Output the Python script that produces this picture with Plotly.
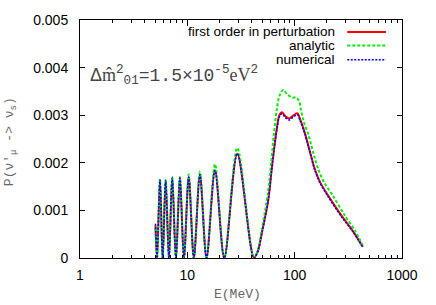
import plotly.graph_objects as go

# ---- data ----
energy_red = [5.05, 5.22, 5.56, 5.89, 6.28, 6.74, 7.23, 7.83, 8.53, 9.3, 10.3, 11.5, 13.1, 15.1,
              18.1, 22.1, 29.2, 41.7, 45.5, 49.2, 56.6, 61, 64, 68, 72, 76, 82, 89, 98, 106,
              113, 124, 144, 154, 172, 205, 273, 350, 431]
p_red = [0.00068, 0.0, 0.00164, 0.0, 0.00162, 0.0, 0.00168, 0.0, 0.00168, 0.0, 0.0017, 0.0,
         0.00175, 0.0, 0.00184, 0.0, 0.00219, 0.0, 0.00015, 0.0005, 0.0012, 0.00185, 0.00225,
         0.0027, 0.0030, 0.00306, 0.00298, 0.00293, 0.0030, 0.00304, 0.0029, 0.00264, 0.0021,
         0.00187, 0.0016, 0.00131, 0.00089, 0.00056, 0.000235]

energy_green = [5.05, 5.22, 5.56, 5.89, 6.28, 6.74, 7.23, 7.83, 8.53, 9.3, 10.3, 11.5, 13.1, 15.1,
                18.1, 22.1, 29.2, 41.7, 45.5, 49.2, 56.6, 61, 64, 68, 72, 78, 86, 95, 103, 110,
                114, 124, 134, 146, 154, 166, 187, 228, 290, 370, 431]
p_green = [0.00062, 0.0, 0.00166, 0.0, 0.00164, 0.0, 0.0017, 0.0, 0.0017, 0.0, 0.00176, 0.0,
           0.00181, 0.0, 0.00197, 0.0, 0.00231, 0.0, 0.00017, 0.00057, 0.0014, 0.0021, 0.0026,
           0.0031, 0.0034, 0.00353, 0.00343, 0.00337, 0.00337, 0.0033, 0.00312, 0.0028, 0.0026,
           0.00228, 0.0021, 0.00186, 0.0016, 0.0013, 0.00091, 0.00055, 0.00026]

energy_blue = energy_red
p_blue = [0.00072, 0.0, 0.00164, 0.0, 0.00162, 0.0, 0.00168, 0.0, 0.00168, 0.0, 0.0017, 0.0,
          0.00175, 0.0, 0.00184, 0.0, 0.00219, 0.0, 0.00015, 0.0005, 0.0012, 0.00184, 0.00224,
          0.00268, 0.00297, 0.00303, 0.00295, 0.0029, 0.00297, 0.00301, 0.00287, 0.00262, 0.00208,
          0.00185, 0.00158, 0.00129, 0.00087, 0.00055, 0.00023]

series_names = ["first order in perturbation", "analytic", "numerical"]
y_ticks = [0, 0.001, 0.002, 0.003, 0.004, 0.005]
y_tick_labels = ["0", "0.001", "0.002", "0.003", "0.004", "0.005"]

styles = [
    dict(color="#ff0000", width=2, dash="solid"),
    dict(color="#00ee00", width=2, dash="3px,2px"),
    dict(color="#0000ff", width=1.6, dash="2px,1.5px"),
]

fig = go.Figure()
for (xs, ys), name, st in zip([(energy_red, p_red), (energy_green, p_green), (energy_blue, p_blue)],
                              series_names, styles):
    fig.add_trace(go.Scatter(x=xs, y=ys, mode="lines", name=name,
                             line=dict(shape="spline", smoothing=0.9, **st), showlegend=False))

tick_font = dict(family="Liberation Sans, Arial, sans-serif", size=14, color="#000")

fig.update_layout(
    width=436, height=305,
    margin=dict(l=80, r=34, t=17, b=47),
    paper_bgcolor="white", plot_bgcolor="white",
    font=tick_font,
    xaxis=dict(type="log", range=[0, 3], dtick=1, tickformat="d",
               showgrid=False, zeroline=False, showline=True, linecolor="#000", linewidth=1,
               mirror="ticks", ticks="inside", ticklen=6, tickcolor="#000",
               ticklabelstandoff=4,
               minor=dict(ticks="inside", ticklen=3, dtick="D1", tickcolor="#000", showgrid=False)),
    yaxis=dict(range=[0, 0.005], tickvals=y_ticks, ticktext=y_tick_labels,
               showgrid=False, zeroline=False, showline=True, linecolor="#000", linewidth=1,
               mirror="ticks", ticks="inside", ticklen=5, tickcolor="#000",
               ticklabelstandoff=8),
)

# axis titles
fig.add_annotation(text="E(MeV)", xref="paper", yref="paper", x=0.49, y=-0.155,
                   xanchor="center", yanchor="middle", showarrow=False,
                   font=dict(family="Liberation Mono, monospace", size=13, color="#666"))
fig.add_annotation(text="P(ν'<sub>μ</sub> -> ν<sub>s</sub>)", xref="paper", yref="paper",
                   x=-0.215, y=0.49, xanchor="center", yanchor="middle", showarrow=False,
                   textangle=-90,
                   font=dict(family="Liberation Mono, monospace", size=13, color="#666"))

# parameter label
label = ("<span style='font-family:Liberation Sans'>Δ</span>"
         "<span style='font-family:Liberation Serif'>m̂</span><sup>2</sup><sub>01</sub>"
         "=1.5×10<sup>-5</sup>"
         "<span style='font-family:Liberation Serif'>eV</span><sup>2</sup>")
fig.add_annotation(text=label, xref="paper", yref="paper", x=0.025, y=0.765,
                   xanchor="left", yanchor="middle", showarrow=False,
                   font=dict(family="Liberation Mono, monospace", size=18, color="#444"))

# legend (gnuplot style: text then sample)
legend_y = [0.950, 0.893, 0.833]
for name, st, ly in zip(series_names, styles, legend_y):
    fig.add_annotation(text=name, xref="paper", yref="paper", x=0.799, y=ly,
                       xanchor="right", yanchor="middle", showarrow=False,
                       font=dict(family="Liberation Sans, Arial, sans-serif", size=13.5, color="#000"))
    fig.add_shape(type="line", xref="paper", yref="paper", x0=0.830, x1=0.950, y0=ly, y1=ly,
                  line=dict(color=st["color"], width=st["width"], dash=st["dash"]))

fig.write_html("out.html", config={"displayModeBar": False},
               post_script="document.body.style.margin='0';document.body.style.overflow='hidden';")
